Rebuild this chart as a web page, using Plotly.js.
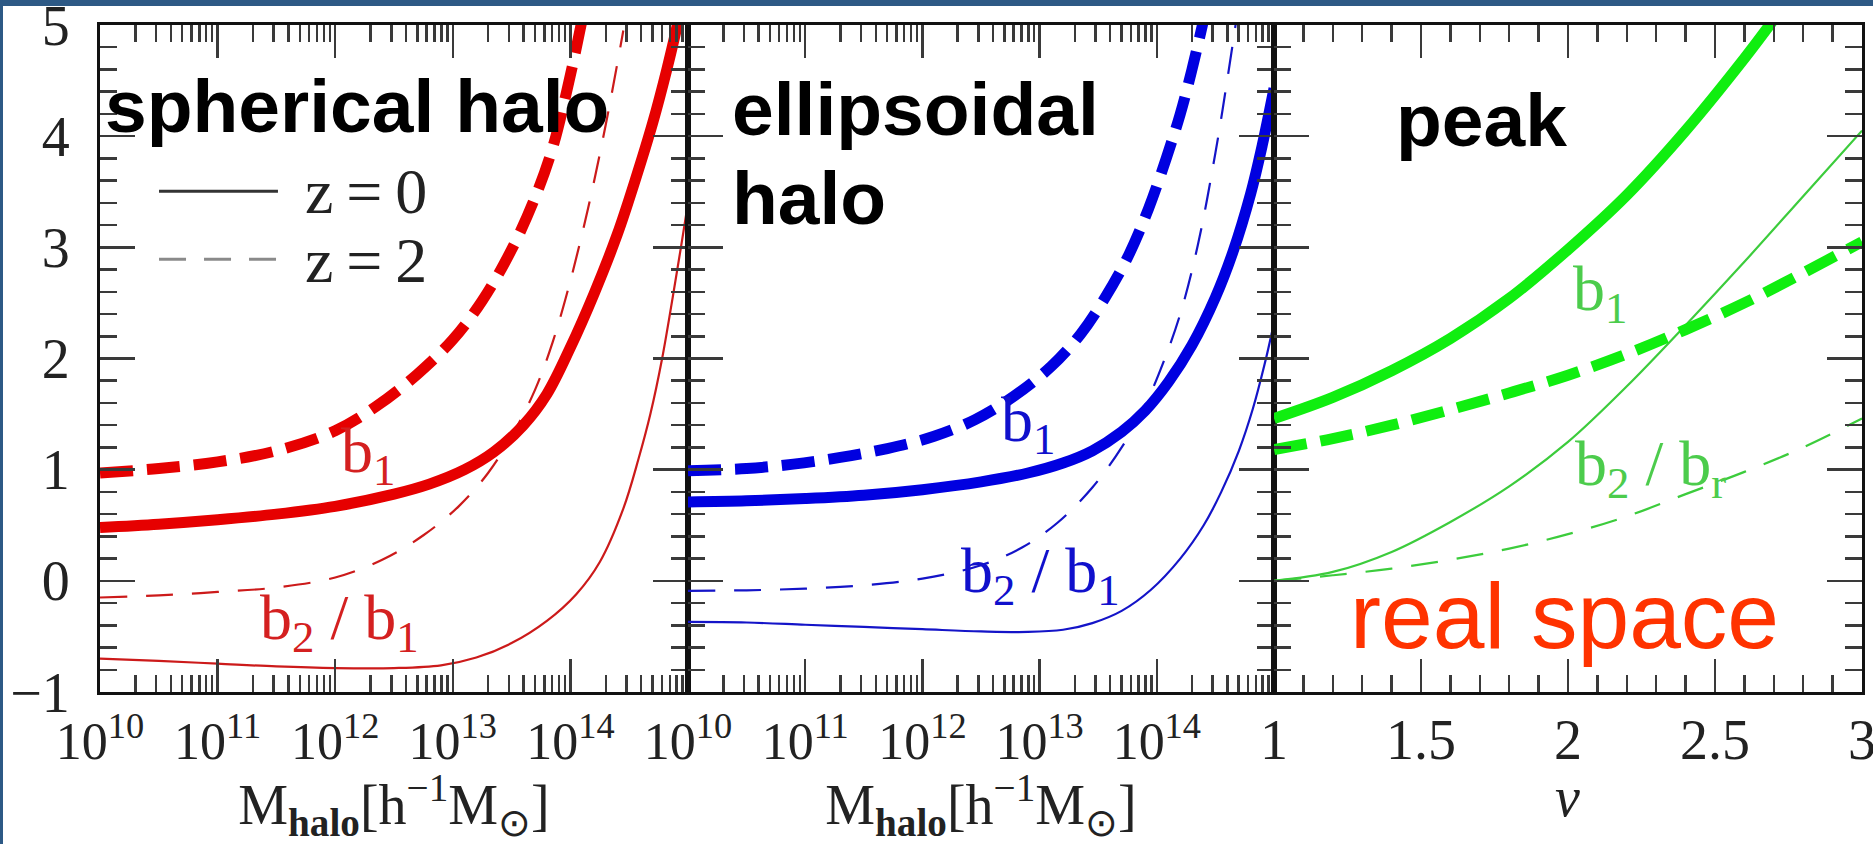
<!DOCTYPE html>
<html>
<head>
<meta charset="utf-8">
<script src="https://cdn.plot.ly/plotly-3.0.1.min.js"></script>
<style>
  html, body { margin: 0; padding: 0; background: #2d5985; overflow: hidden; width: 1873px; height: 844px; }
  #chart { position: absolute; left: 3px; top: 6px; width: 1870px; height: 838px; background: #ffffff; }
</style>
</head>
<body>
<div id="chart"></div>
<script>
// ---------------- DATA ----------------
// Panel 1: spherical halo, x = log10(M_halo)
const sphB1z0_logM = [10, 10.5, 11, 11.5, 12, 12.5, 12.8, 13.1, 13.35, 13.6, 13.8, 14.0, 14.2, 14.4, 14.55, 14.7, 14.82, 14.92, 15];
const sphB1z0      = [0.48, 0.51, 0.55, 0.60, 0.67, 0.78, 0.87, 1.0, 1.16, 1.40, 1.68, 2.1, 2.58, 3.12, 3.6, 4.12, 4.6, 5.05, 5.45];
const sphB1z2_logM = [10, 10.5, 11, 11.5, 12, 12.35, 12.7, 13.0, 13.25, 13.5, 13.7, 13.85, 14.0, 14.1];
const sphB1z2      = [0.97, 1.01, 1.07, 1.17, 1.35, 1.57, 1.86, 2.17, 2.52, 2.98, 3.45, 3.9, 4.55, 5.05];
const sphB2z0_logM = [10, 10.5, 11, 11.5, 12, 12.5, 12.9, 13.2, 13.5, 13.8, 14.05, 14.25, 14.45, 14.58, 14.68, 14.78, 14.87, 14.94, 15];
const sphB2z0      = [-0.70, -0.72, -0.745, -0.77, -0.785, -0.785, -0.76, -0.69, -0.56, -0.36, -0.12, 0.17, 0.65, 1.1, 1.5, 2.0, 2.55, 3.0, 3.4];
const sphB2z2_logM = [10, 10.5, 11, 11.5, 12, 12.4, 12.75, 13.05, 13.3, 13.5, 13.7, 13.85, 14.0, 14.15, 14.3, 14.45];
const sphB2z2      = [-0.15, -0.13, -0.10, -0.06, 0.03, 0.19, 0.41, 0.67, 0.97, 1.30, 1.72, 2.15, 2.7, 3.35, 4.1, 4.95];

// Panel 2: ellipsoidal halo
const ellB1z0_logM = [10, 10.5, 11, 11.5, 12, 12.5, 12.9, 13.2, 13.45, 13.7, 13.9, 14.1, 14.3, 14.5, 14.65, 14.8, 14.9, 15];
const ellB1z0      = [0.71, 0.72, 0.74, 0.77, 0.82, 0.89, 0.97, 1.06, 1.17, 1.34, 1.53, 1.79, 2.12, 2.55, 2.96, 3.48, 3.92, 4.43];
const ellB1z2_logM = [10, 10.5, 10.9, 11.3, 11.7, 12.1, 12.45, 12.78, 13.1, 13.35, 13.56, 13.76, 13.93, 14.08, 14.2, 14.3, 14.4];
const ellB1z2      = [0.99, 1.01, 1.05, 1.11, 1.19, 1.30, 1.45, 1.66, 1.93, 2.22, 2.55, 2.93, 3.35, 3.8, 4.2, 4.6, 5.05];
const ellB2z0_logM = [10, 10.5, 11, 11.5, 12, 12.5, 12.9, 13.2, 13.45, 13.7, 13.95, 14.2, 14.4, 14.55, 14.7, 14.82, 14.92, 15];
const ellB2z0      = [-0.37, -0.375, -0.395, -0.415, -0.435, -0.455, -0.46, -0.44, -0.38, -0.27, -0.08, 0.2, 0.5, 0.8, 1.17, 1.55, 1.95, 2.32];
const ellB2z2_logM = [10, 10.5, 11, 11.5, 12, 12.5, 12.85, 13.15, 13.45, 13.7, 13.9, 14.05, 14.2, 14.35, 14.5, 14.6, 14.7];
const ellB2z2      = [-0.09, -0.085, -0.07, -0.04, 0.02, 0.14, 0.30, 0.52, 0.84, 1.2, 1.58, 1.95, 2.4, 3.02, 3.85, 4.5, 5.2];

// Panel 3: peak, x = nu
const pkNuB1z0 = [1.0, 1.2, 1.4, 1.6, 1.8, 2.0, 2.2, 2.4, 2.6, 2.7];
const pkB1z0   = [1.46, 1.65, 1.89, 2.18, 2.54, 2.98, 3.47, 4.05, 4.7, 5.05];
const pkNu     = [1.0, 1.2, 1.4, 1.6, 1.8, 2.0, 2.2, 2.4, 2.6, 2.8, 3.0];
const pkB1z2   = [1.18, 1.28, 1.40, 1.54, 1.69, 1.85, 2.04, 2.26, 2.5, 2.77, 3.05];
const pkB2z0   = [0.0, 0.08, 0.26, 0.53, 0.85, 1.25, 1.75, 2.3, 2.87, 3.46, 4.05];
const pkB2z2   = [0.0, 0.05, 0.11, 0.19, 0.29, 0.42, 0.58, 0.78, 0.98, 1.2, 1.46];

// Tick labels
const massTickVals = [1e10, 1e11, 1e12, 1e13, 1e14];
const massTickText = ['10<sup>10</sup>', '10<sup>11</sup>', '10<sup>12</sup>', '10<sup>13</sup>', '10<sup>14</sup>'];
const nuTickVals = [1, 1.5, 2, 2.5, 3];
const nuTickText = ['1', '1.5', '2', '2.5', '3'];
const yTickVals = [-1, 0, 1, 2, 3, 4, 5];

// Text
const panelNames = ['spherical halo', 'ellipsoidal', 'halo', 'peak'];
const legendText = ['z\u2009=\u20090', 'z\u2009=\u20092'];
const massTitle = 'M<sub><b>halo</b></sub>[h<sup>\u22121</sup>M<sub>\u2299</sub>]';
const nuTitle = '<i>\u03bd</i>';

// ---------------- STYLE ----------------
const RED = '#e60000', RED_THIN = '#cc1a1a', RED_LBL = '#d42020';
const BLUE = '#0000e0', BLUE_THIN = '#1414c8', BLUE_LBL = '#1010cc';
const GREEN = '#10ee10', GREEN_THIN = '#3ccc3c', GREEN_LBL = '#4ccc4c';
const THICK = 11, THIN = 2.2;
const DASH_THICK = '33px,14px', DASH_THIN = '27px,19px';
const pow10 = a => a.map(v => Math.pow(10, v));

function tr(x, y, xa, ya, color, width, dash) {
  return { x: x, y: y, xaxis: xa, yaxis: ya, type: 'scatter', mode: 'lines',
    line: { color: color, width: width, dash: dash || 'solid', shape: 'spline', smoothing: 1 },
    showlegend: false, hoverinfo: 'skip' };
}

const data = [
  tr(pow10(sphB2z0_logM), sphB2z0, 'x', 'y', RED_THIN, THIN),
  tr(pow10(sphB2z2_logM), sphB2z2, 'x', 'y', RED_THIN, THIN, DASH_THIN),
  tr(pow10(sphB1z0_logM), sphB1z0, 'x', 'y', RED, THICK),
  tr(pow10(sphB1z2_logM), sphB1z2, 'x', 'y', RED, THICK, DASH_THICK),
  tr(pow10(ellB2z0_logM), ellB2z0, 'x2', 'y2', BLUE_THIN, THIN),
  tr(pow10(ellB2z2_logM), ellB2z2, 'x2', 'y2', BLUE_THIN, THIN, DASH_THIN),
  tr(pow10(ellB1z0_logM), ellB1z0, 'x2', 'y2', BLUE, THICK),
  tr(pow10(ellB1z2_logM), ellB1z2, 'x2', 'y2', BLUE, THICK, DASH_THICK),
  tr(pkNu, pkB2z0, 'x3', 'y3', GREEN_THIN, THIN),
  tr(pkNu, pkB2z2, 'x3', 'y3', GREEN_THIN, THIN, DASH_THIN),
  tr(pkNuB1z0, pkB1z0, 'x3', 'y3', GREEN, THICK),
  tr(pkNu, pkB1z2, 'x3', 'y3', GREEN, THICK, DASH_THICK)
];

const SERIF = 'Liberation Serif, Times New Roman, serif';
const SANS = 'Liberation Sans, Arial, sans-serif';
const AX_LINE = '#111111', TICK_C = '#3a3a3a';

function massAxis(domain, anchor) {
  return {
    type: 'log', range: [10, 15], domain: domain, anchor: anchor,
    tickmode: 'array', tickvals: massTickVals, ticktext: massTickText,
    ticks: 'inside', ticklen: 33, tickwidth: 2.5, tickcolor: TICK_C,
    minor: { dtick: 'D1', ticks: 'inside', ticklen: 17, tickwidth: 2.5, tickcolor: TICK_C },
    mirror: 'allticks', showline: true, linewidth: 3, linecolor: AX_LINE,
    showgrid: false, zeroline: false,
    tickfont: { family: SERIF, size: 52, color: '#222' },
    ticklabelstandoff: 2, ticklabeloverflow: 'allow',
    title: { text: massTitle, font: { family: SERIF, size: 56, color: '#222' }, standoff: 46 },
    automargin: false, fixedrange: true
  };
}
function yAxis(anchor, labels) {
  return {
    range: [-1, 5], domain: [0, 1], anchor: anchor,
    tickmode: 'array', tickvals: yTickVals, showticklabels: labels,
    ticks: 'inside', ticklen: 35, tickwidth: 2.5, tickcolor: TICK_C,
    minor: { dtick: 0.2, tick0: 0, ticks: 'inside', ticklen: 17, tickwidth: 2.5, tickcolor: TICK_C },
    mirror: 'allticks', showline: true, linewidth: 3, linecolor: AX_LINE,
    showgrid: false, zeroline: false,
    tickfont: { family: SERIF, size: 56, color: '#222' },
    ticklabelstandoff: 16, ticklabeloverflow: 'allow', automargin: false, fixedrange: true
  };
}

// panel geometry (fractions of plot area)
const D1 = [0, 0.33371], D2 = [0.33371, 0.6663], D3 = [0.6663, 1];

function lbl(text, x, y, size, color, family, extra) {
  return Object.assign({ text: text, x: x, y: y, xref: 'paper', yref: 'paper',
    xanchor: 'left', yanchor: 'middle', showarrow: false,
    font: { family: family, size: size, color: color } }, extra || {});
}

const annotations = [
  lbl('<b>' + panelNames[0] + '</b>', 0.0017, 0.8779, 75, '#000', SANS),
  lbl('<b>' + panelNames[1] + '</b>', 0.3576, 0.8734, 75, '#000', SANS),
  lbl('<b>' + panelNames[2] + '</b>', 0.3576, 0.7401, 75, '#000', SANS),
  lbl('<b>' + panelNames[3] + '</b>', 0.7344, 0.8569, 75, '#000', SANS),
  lbl('real space', 0.7083, 0.1140, 93, '#ff3300', SANS),
  lbl(legendText[0], 0.1152, 0.7506, 64, '#222', SERIF),
  lbl(legendText[1], 0.1152, 0.6472, 64, '#222', SERIF),
  lbl('b<sub>1</sub>', 0.1356, 0.3551, 64, RED_LBL, SERIF),
  lbl('b<sub>2</sub> / b<sub>1</sub>', 0.0897, 0.1049, 64, RED_LBL, SERIF),
  lbl('b<sub>1</sub>', 0.5102, 0.4015, 64, BLUE_LBL, SERIF),
  lbl('b<sub>2</sub> / b<sub>1</sub>', 0.4875, 0.1753, 64, BLUE_LBL, SERIF),
  lbl('b<sub>1</sub>', 0.8348, 0.5978, 64, GREEN_LBL, SERIF),
  lbl('b<sub>2</sub> / b<sub>r</sub>', 0.8360, 0.3356, 64, GREEN_LBL, SERIF),
  // x-axis title of the peak panel
  lbl(nuTitle, 0.8331, -0.1568, 56, '#222', SERIF, { xanchor: 'center' })
];

const shapes = [
  { type: 'line', xref: 'paper', yref: 'paper', x0: 0.0335, x1: 0.1010, y0: 0.7506, y1: 0.7506,
    line: { color: '#333', width: 3 } },
  { type: 'line', xref: 'paper', yref: 'paper', x0: 0.0335, x1: 0.1010, y0: 0.6487, y1: 0.6487,
    line: { color: '#8a8a8a', width: 3, dash: '27px,18px' } }
];

const layout = {
  width: 1870, height: 838,
  margin: { l: 97, r: 11, t: 18.5, b: 152, pad: 0 },
  paper_bgcolor: '#ffffff', plot_bgcolor: '#ffffff',
  showlegend: false, hovermode: false,
  font: { family: SERIF, color: '#222' },
  xaxis: massAxis(D1, 'y'),
  xaxis2: massAxis(D2, 'y2'),
  xaxis3: {
    range: [1, 3], domain: D3, anchor: 'y3',
    tickmode: 'array', tickvals: nuTickVals, ticktext: nuTickText,
    ticks: 'inside', ticklen: 33, tickwidth: 2.5, tickcolor: TICK_C,
    minor: { dtick: 0.1, tick0: 1, ticks: 'inside', ticklen: 17, tickwidth: 2.5, tickcolor: TICK_C },
    mirror: 'allticks', showline: true, linewidth: 3, linecolor: AX_LINE,
    showgrid: false, zeroline: false,
    tickfont: { family: SERIF, size: 56, color: '#222' },
    ticklabelstandoff: -3, ticklabeloverflow: 'allow',
    automargin: false, fixedrange: true
  },
  yaxis: yAxis('x', true),
  yaxis2: yAxis('x2', false),
  yaxis3: yAxis('x3', false),
  annotations: annotations,
  shapes: shapes
};

Plotly.newPlot('chart', data, layout, { staticPlot: true, displayModeBar: false });
</script>
</body>
</html>
